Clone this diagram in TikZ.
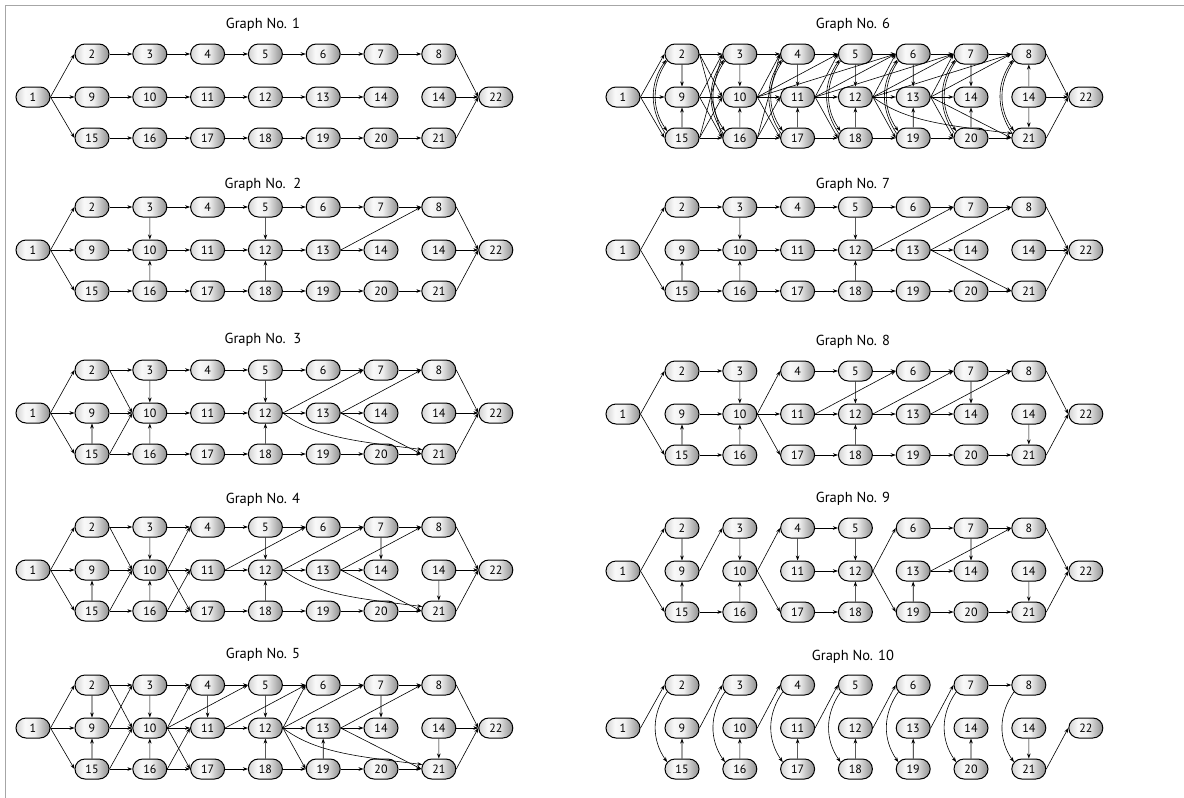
\documentclass[tikz,border=0pt]{standalone}
\usepackage{fontspec}
\setmainfont{PT Sans}
\usetikzlibrary{arrows.meta,shapes.misc}
\pgfdeclarehorizontalshading{nodeshade}{100bp}{color(0bp)=(gray!35); color(25bp)=(gray!35); color(38bp)=(gray!5); color(52bp)=(gray!12); color(75bp)=(gray!88); color(100bp)=(gray!88)}
\tikzset{
 nd/.style={rounded rectangle, draw=black, line width=1pt, minimum width=34pt, minimum height=20pt, inner sep=0pt, shade, shading=nodeshade, font=\fontsize{12}{12}\selectfont},
 arr/.style={-{Stealth[length=5pt,width=3.6pt]}, line width=0.6pt},
 ttl/.style={font=\fontsize{14.5}{15}\selectfont}
}
\newcommand\mkgraph[5]{%
 \node[ttl] (#1-t) at ({#2+263},#4) {#5};
 \node[nd] (#1-1) at ({#2+33},#3) {1};
 \foreach \n [count=\k] in {2,...,8} \node[nd] (#1-\n) at ({#2+92+57.8*(\k-1)},{#3-43}) {\n};
 \foreach \n [count=\k] in {9,...,14} \node[nd] (#1-\n) at ({#2+92+57.8*(\k-1)},#3) {\n};
 \node[nd] (#1-14b) at ({#2+92+57.8*6},#3) {14};
 \foreach \n [count=\k] in {15,...,21} \node[nd] (#1-\n) at ({#2+92+57.8*(\k-1)},{#3+41}) {\n};
 \node[nd] (#1-22) at ({#2+92+57.8*6+57},#3) {22};
}
\newcommand\EE[1]{\foreach \a/\b in {#1} \draw[arr] (\gp-\a.east) -- (\gp-\b.west);}
\newcommand\VV[1]{\foreach \a/\b in {#1} \draw[arr] (\gp-\a) -- (\gp-\b);}
\newcommand\CC[1]{\foreach \a/\b in {#1} \draw[arr] (\gp-\a.205) to[bend right=35] (\gp-\b.155);}
\newcommand\CU[1]{\foreach \a/\b in {#1} \draw[arr] (\gp-\a.165) to[bend left=35] (\gp-\b.200);}
\newcommand\CR{\draw[arr] (\gp-12.east) .. controls +(33,25) and +(-63,-8) .. (\gp-21.165);}
\begin{document}
\begin{tikzpicture}[x=1pt,y=-1pt]
\useasboundingbox (0,0) rectangle (1184,798);
\draw[gray!70, line width=1pt] (5,798) -- (5,5) -- (1184,5);
% ---------- Graph 1
\mkgraph{a}{0}{97}{25}{Graph No. 1}
\def\gp{a}
\EE{1/2,1/9,1/15,2/3,3/4,4/5,5/6,6/7,7/8,9/10,10/11,11/12,12/13,13/14,15/16,16/17,17/18,18/19,19/20,20/21,8/22,14b/22,21/22}
% ---------- Graph 2
\mkgraph{b}{0}{250}{185}{Graph No.\ \ 2}
\def\gp{b}
\EE{1/2,1/9,1/15,2/3,3/4,4/5,5/6,6/7,7/8,9/10,10/11,11/12,12/13,13/14,15/16,16/17,17/18,18/19,19/20,20/21,13/8,8/22,14b/22,21/22}
\VV{3/10,16/10,5/12,18/12}
% ---------- Graph 3
\mkgraph{c}{0}{413}{340}{Graph No.\ \ 3}
\def\gp{c}
\EE{1/2,1/9,1/15,2/3,3/4,4/5,5/6,6/7,7/8,9/10,10/11,11/12,12/13,13/14,15/16,16/17,17/18,18/19,19/20,20/21,2/10,15/10,12/7,13/8,13/21,8/22,14b/22,21/22}
\VV{3/10,15/9,16/10,5/12,18/12}
\CR
% ---------- Graph 4
\mkgraph{d}{0}{570}{500}{Graph No. 4}
\def\gp{d}
\EE{1/2,1/9,1/15,2/3,3/4,4/5,5/6,6/7,7/8,9/10,10/11,11/12,12/13,13/14,15/16,16/17,17/18,18/19,19/20,20/21,2/10,15/10,16/11,10/4,10/17,11/6,12/7,13/8,13/21,8/22,14b/22,21/22}
\VV{3/10,15/9,16/10,5/12,18/12,7/14,14b/21}
\CR
% ---------- Graph 5
\mkgraph{e}{0}{728}{655}{Graph No. 5}
\def\gp{e}
\EE{1/2,1/9,1/15,2/3,3/4,4/5,5/6,6/7,7/8,9/10,10/11,11/12,12/13,13/14,15/16,16/17,17/18,18/19,19/20,20/21,2/10,9/3,15/10,16/11,10/4,10/5,10/17,11/6,12/6,12/7,12/19,13/8,13/21,8/22,14b/22,21/22}
\VV{2/9,3/10,15/9,16/10,4/11,5/12,18/12,19/13,7/14,14b/21}
\CR
% ---------- Graph 6
\mkgraph{f}{590}{97}{25}{Graph No. 6}
\def\gp{f}
\EE{1/2,1/9,1/15,2/3,3/4,4/5,5/6,6/7,7/8,9/10,10/11,11/12,12/13,13/14,15/16,16/17,17/18,18/19,19/20,20/21,2/10,2/16,9/3,9/16,15/3,15/10,16/4,16/11,10/4,10/5,10/6,10/17,11/5,11/6,11/7,11/18,12/6,12/7,12/8,12/19,13/7,13/8,13/20,13/21,8/22,14b/22,21/22}
\VV{2/9,15/9,3/10,16/10,4/11,17/11,5/12,18/12,6/13,19/13,7/14,20/14,14b/8,14b/21}
\CC{2/15,3/16,4/17,5/18,6/19,7/20,8/21}
\CU{15/2,16/3,17/4,18/5,19/6,20/7,21/8}
\CR
% ---------- Graph 7
\mkgraph{g}{590}{250}{185}{Graph No. 7}
\def\gp{g}
\EE{1/2,1/15,2/3,3/4,4/5,5/6,6/7,7/8,9/10,10/11,11/12,12/13,13/14,15/16,16/17,17/18,18/19,19/20,20/21,12/7,13/8,13/21,8/22,14b/22,21/22}
\VV{3/10,15/9,16/10,5/12,18/12}
% ---------- Graph 8
\mkgraph{h}{590}{414}{342}{Graph No. 8}
\def\gp{h}
\EE{1/2,1/15,2/3,4/5,5/6,6/7,7/8,9/10,10/11,11/12,12/13,13/14,15/16,17/18,18/19,19/20,20/21,10/4,10/17,11/6,12/7,13/8,8/22,21/22}
\VV{3/10,15/9,16/10,5/12,18/12,7/14,14b/21}
% ---------- Graph 9
\mkgraph{i}{590}{571}{499}{Graph No. 9}
\def\gp{i}
\EE{1/2,1/15,9/3,15/16,10/4,10/17,4/5,11/12,17/18,12/6,12/19,6/7,7/8,13/14,13/8,19/20,20/21,8/22,21/22}
\VV{2/9,15/9,16/10,3/10,4/11,5/12,18/12,7/14,19/13,14b/21}
% ---------- Graph 10
\mkgraph{j}{590}{728}{657}{Graph No. 10}
\def\gp{j}
\EE{1/2,9/3,10/4,11/5,12/6,13/7,7/8,21/22}
\VV{15/9,16/10,17/11,18/12,19/13,20/14,14b/21}
\CC{2/15,3/16,4/17,5/18,6/19,7/20,8/21}
\end{tikzpicture}
\end{document}
